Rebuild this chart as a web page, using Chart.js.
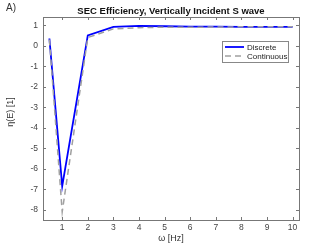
<!DOCTYPE html>
<html>
  <head>
    <script src="https://cdn.jsdelivr.net/npm/chart.js@4/dist/chart.umd.min.js"></script>
    <style>
      body { margin: 0; background: #fff; }
    </style>
  </head>

  <body>
    <div style="width: 331px; height: 248px;">
      <canvas id="canvas"></canvas>
    </div>
    <script>
      const omega = [0.5, 1, 2, 3, 4, 5, 6, 7, 8, 9, 10];
      const discrete = [0.35, -6.85, 0.5, 0.92, 0.97, 0.95, 0.93, 0.93, 0.92, 0.92, 0.92];
      const continuous = [0.3, -8.1, 0.4, 0.82, 0.88, 0.9, 0.9, 0.91, 0.92, 0.92, 0.92];
      const xTicks = [1, 2, 3, 4, 5, 6, 7, 8, 9, 10];
      const yTicks = [-8, -7, -6, -5, -4, -3, -2, -1, 0, 1];

      const FONT = '"Liberation Sans", Arial, sans-serif';
      const AXIS = '#444';

      // matlab style frame: box, inward ticks, inside legend, labels
      const matlabFrame = {
        id: 'matlabFrame',
        afterDraw(chart) {
          const { ctx, chartArea: a, scales } = chart;
          ctx.save();
          ctx.strokeStyle = '#777';
          ctx.lineWidth = 1;
          ctx.strokeRect(a.left + 0.5, a.top + 0.5, a.right - a.left, a.bottom - a.top);
          ctx.beginPath();
          xTicks.forEach((v) => {
            const x = Math.round(scales.x.getPixelForValue(v)) + 0.5;
            ctx.moveTo(x, a.bottom); ctx.lineTo(x, a.bottom - 3);
            ctx.moveTo(x, a.top); ctx.lineTo(x, a.top + 3);
          });
          yTicks.forEach((v) => {
            const y = Math.round(scales.y.getPixelForValue(v)) + 0.5;
            ctx.moveTo(a.left, y); ctx.lineTo(a.left + 3, y);
            ctx.moveTo(a.right, y); ctx.lineTo(a.right - 3, y);
          });
          ctx.stroke();

          // legend
          const lx = 222, ly = 41, lw = 66, lh = 21;
          ctx.fillStyle = '#fff';
          ctx.fillRect(lx, ly, lw, lh);
          ctx.strokeStyle = '#888';
          ctx.strokeRect(lx + 0.5, ly + 0.5, lw, lh);
          const items = chart.data.datasets;
          ctx.font = '8px ' + FONT;
          ctx.textBaseline = 'middle';
          [items[1], items[0]].forEach((d, i) => {
            const y = ly + 6 + i * 9;
            ctx.beginPath();
            ctx.strokeStyle = d.borderColor;
            ctx.lineWidth = d.borderWidth;
            ctx.setLineDash(d.borderDash || []);
            ctx.moveTo(lx + 3, y); ctx.lineTo(lx + 22, y);
            ctx.stroke();
            ctx.setLineDash([]);
            ctx.fillStyle = '#222';
            ctx.fillText(d.label, lx + 25, y + 0.5);
          });

          // texts
          ctx.fillStyle = '#111';
          ctx.textAlign = 'center';
          ctx.font = 'bold 9.5px ' + FONT;
          ctx.fillText('SEC Efficiency, Vertically Incident S wave', 171, 11);
          ctx.fillStyle = '#333';
          ctx.font = '9px ' + FONT;
          ctx.fillText('ω [Hz]', 171, 239);
          ctx.textAlign = 'left';
          ctx.font = '10px ' + FONT;
          ctx.fillText('A)', 6, 8);
          ctx.translate(11, 112);
          ctx.rotate(-Math.PI / 2);
          ctx.textAlign = 'center';
          ctx.font = '9px ' + FONT;
          ctx.fillText('η(E) [1]', 0, 0);
          ctx.restore();
        },
      };

      new Chart(document.getElementById('canvas'), {
        type: 'line',
        data: {
          datasets: [
            {
              label: 'Continuous',
              data: omega.map((x, i) => ({ x, y: continuous[i] })),
              borderColor: '#a0a0a0',
              borderWidth: 1.5,
              borderDash: [6, 4],
              pointRadius: 0,
              order: 0,
            },
            {
              label: 'Discrete',
              data: omega.map((x, i) => ({ x, y: discrete[i] })),
              borderColor: '#0000ff',
              borderWidth: 1.8,
              pointRadius: 0,
              order: 1,
            },
          ],
        },
        options: {
          responsive: true,
          maintainAspectRatio: false,
          animation: false,
          layout: { padding: { top: 17, right: 32, left: 0, bottom: 0 } },
          plugins: { legend: { display: false }, tooltip: { enabled: false } },
          scales: {
            x: {
              type: 'linear',
              min: 0.25,
              max: 10.25,
              afterBuildTicks: (s) => { s.ticks = xTicks.map((v) => ({ value: v })); },
              afterFit: (s) => { s.height = 28; },
              grid: { display: false, drawTicks: false },
              border: { display: false },
              ticks: { color: AXIS, font: { size: 8.5, family: FONT }, padding: 3, maxRotation: 0 },
            },
            y: {
              min: -8.5,
              max: 1.4,
              afterBuildTicks: (s) => { s.ticks = yTicks.map((v) => ({ value: v })); },
              afterFit: (s) => { s.width = 43; },
              grid: { display: false, drawTicks: false },
              border: { display: false },
              ticks: { color: AXIS, font: { size: 8.5, family: FONT }, padding: 5 },
            },
          },
        },
        plugins: [matlabFrame],
      });
    </script>
  </body>
</html>
